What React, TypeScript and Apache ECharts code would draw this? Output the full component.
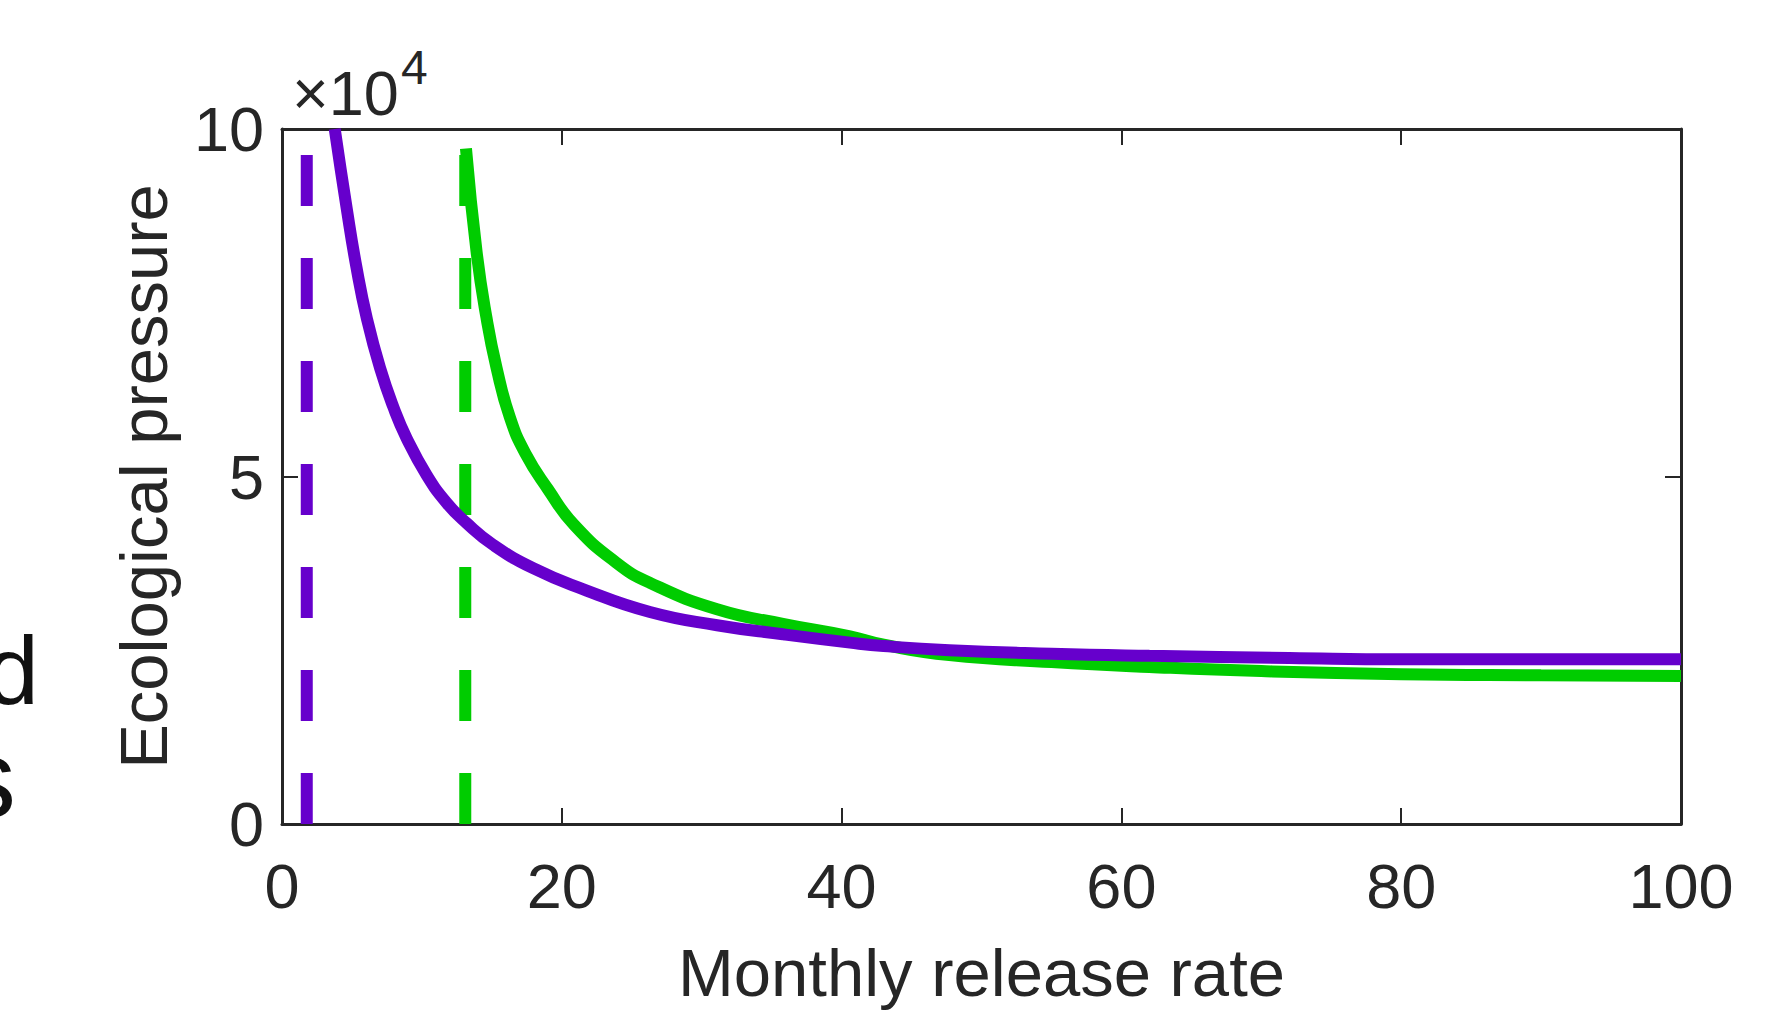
import React, { useEffect, useRef } from "react";
import * as echarts from "echarts";

// Monthly release rate (x) vs ecological pressure (y)
const purpleX = [3.77, 4.63, 5.34, 6.06, 7.01, 7.96, 8.91, 10.34, 11.77, 13.19, 15.07, 17.95, 21.5, 26.3, 31.1, 35.8, 40.6, 43, 47.7, 55, 62, 72, 80, 90, 100];
const purpleY = [100000, 88500, 79900, 72800, 65600, 60000, 55500, 50200, 46200, 43300, 40200, 36800, 33800, 30500, 28600, 27300, 26100, 25600, 25000, 24500, 24200, 23900, 23700, 23700, 23700];

const greenX = [13.15, 13.91, 14.62, 15.34, 16.29, 17.4, 19.0, 20.9, 23.9, 26.3, 31.1, 35.8, 40.6, 43, 47.7, 55, 62, 70, 80, 90, 100];
const greenY = [97200, 82300, 72800, 65600, 58500, 53300, 48200, 43000, 37600, 34700, 30900, 28800, 27000, 25800, 24300, 23300, 22600, 22000, 21550, 21400, 21300];

// vertical dashed thresholds
const purpleThreshold = 1.77;
const greenThreshold = 13.1;

const xTicks = [0, 20, 40, 60, 80, 100];
const yTicks = [0, 50000, 100000];

const PURPLE = "#6600CC";
const GREEN = "#00CC00";
const AXIS = "#262626";
const FONT = "'Liberation Sans', Arial, Helvetica, sans-serif";

export default function App() {
  const ref = useRef<HTMLDivElement>(null);
  useEffect(() => {
    if (!ref.current) return;
    const chart = echarts.init(ref.current, undefined, { renderer: "svg" });
    const zip = (xs: number[], ys: number[]) => xs.map((x, i) => [x, ys[i]]);
    const tickCommon = {
      min: xTicks[0],
      max: xTicks[xTicks.length - 1],
      interval: xTicks[1] - xTicks[0],
    };
    const yCommon = {
      min: yTicks[0],
      max: yTicks[yTicks.length - 1],
      interval: yTicks[1] - yTicks[0],
    };
    const axisLine = { show: true, onZero: false, lineStyle: { color: AXIS, width: 3 } };
    const axisTick = { show: true, inside: true, length: 16, lineStyle: { color: AXIS, width: 2 } };
    chart.setOption({
      animation: false,
      backgroundColor: "#ffffff",
      grid: { left: 282, right: 110, top: 129, bottom: 181, containLabel: false },
      xAxis: [
        {
          type: "value",
          position: "bottom",
          ...tickCommon,
          axisLine,
          axisTick,
          splitLine: { show: false },
          axisLabel: { show: true, margin: 30, fontSize: 63, color: AXIS, fontFamily: FONT },
          name: "Monthly release rate",
          nameLocation: "middle",
          nameGap: 115,
          nameTextStyle: { fontSize: 67, color: AXIS, fontFamily: FONT },
        },
        {
          type: "value",
          position: "top",
          ...tickCommon,
          axisLine,
          axisTick,
          splitLine: { show: false },
          axisLabel: { show: false },
        },
      ],
      yAxis: [
        {
          type: "value",
          position: "left",
          ...yCommon,
          axisLine,
          axisTick,
          splitLine: { show: false },
          axisLabel: {
            show: true,
            margin: 18,
            fontSize: 63,
            color: AXIS,
            fontFamily: FONT,
            formatter: (v: number) => String(v / 10000),
          },
          name: "Ecological pressure",
          nameLocation: "middle",
          nameGap: 105,
          nameTextStyle: { fontSize: 67, color: AXIS, fontFamily: FONT },
        },
        {
          type: "value",
          position: "right",
          ...yCommon,
          axisLine,
          axisTick,
          splitLine: { show: false },
          axisLabel: { show: false },
        },
      ],
      graphic: [
        {
          type: "text",
          x: 292,
          y: 92.5,
          style: { text: "×10", fontSize: 63, fontFamily: FONT, fill: AXIS, align: "left", verticalAlign: "middle" },
        },
        {
          type: "text",
          x: 401,
          y: 67.5,
          style: { text: "4", fontSize: 48, fontFamily: FONT, fill: AXIS, align: "left", verticalAlign: "middle" },
        },
        {
          type: "text",
          x: 39,
          y: 670,
          style: { text: "d", fontSize: 96, fontFamily: FONT, fill: "#111111", align: "right", verticalAlign: "middle" },
        },
        {
          type: "text",
          x: 16,
          y: 778,
          style: { text: "s", fontSize: 112, fontFamily: FONT, fill: "#111111", align: "right", verticalAlign: "middle" },
        },
      ],
      series: [
        {
          type: "line",
          data: zip(greenX, greenY),
          symbol: "none",
          smooth: 0.5,
          clip: false,
          lineStyle: { color: GREEN, width: 12, cap: "butt" },
          z: 2,
        },
        {
          type: "line",
          data: [[greenThreshold, yTicks[0]], [greenThreshold, yTicks[yTicks.length - 1]]],
          symbol: "none",
          clip: true,
          lineStyle: { color: GREEN, width: 12, type: [51, 52], cap: "butt" },
          z: 3,
        },
        {
          type: "line",
          data: zip(purpleX, purpleY),
          symbol: "none",
          smooth: 0.5,
          clip: false,
          lineStyle: { color: PURPLE, width: 12, cap: "butt" },
          z: 4,
        },
        {
          type: "line",
          data: [[purpleThreshold, yTicks[0]], [purpleThreshold, yTicks[yTicks.length - 1]]],
          symbol: "none",
          clip: true,
          lineStyle: { color: PURPLE, width: 12, type: [51, 52], cap: "butt" },
          z: 5,
        },
      ],
    });
    return () => chart.dispose();
  }, []);
  return (
    <div
      ref={ref}
      style={{ position: "fixed", left: 0, top: 0, width: 1791, height: 1011, background: "#fff" }}
    />
  );
}
